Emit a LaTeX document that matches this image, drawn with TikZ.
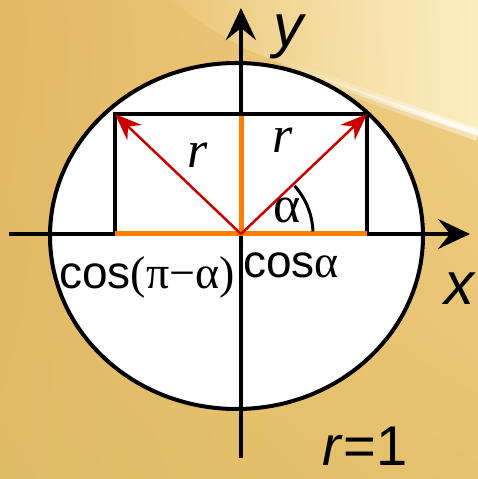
\documentclass[tikz,border=0pt]{standalone}
\usepackage{fontspec}
\setmainfont{Liberation Serif}
\newfontfamily\arialf{Liberation Sans}
\usetikzlibrary{arrows.meta,fadings,shadings}
\definecolor{goldUL}{RGB}{228,184,100}
\definecolor{goldLL}{RGB}{224,187,102}
\definecolor{goldUR}{RGB}{240,208,135}
\definecolor{goldLR}{RGB}{230,194,110}
\definecolor{creamlight}{RGB}{251,238,192}
\definecolor{orangeline}{RGB}{255,128,0}
\definecolor{redarrow}{RGB}{200,0,0}
\tikzfading[name=fadeleft, left color=transparent!100, middle color=transparent!25, right color=transparent!0]
\tikzfading[name=fadestreak, left color=transparent!100, right color=transparent!0]
\tikzset{
  blackline/.style={line width=4pt, black},
  axisline/.style={line width=4pt, black, -{Stealth[length=32pt,width=30pt,inset=12pt]}},
  orangeseg/.style={line width=5pt, orangeline},
  radius arrow/.style={line width=2.5pt, redarrow, -{Stealth[length=27pt,width=21pt,inset=9pt]}},
  sanslabel/.style={inner sep=0pt, anchor=base, font=\arialf\fontsize{46}{50}\selectfont},
  axislabel/.style={inner sep=0pt, anchor=base, font=\arialf\itshape\fontsize{60}{66}\selectfont},
  serifletter/.style={inner sep=0pt, anchor=base, font=\rmfamily\itshape\fontsize{52}{56}\selectfont}
}
\begin{document}
\begin{tikzpicture}[x=1pt,y=1pt]
\useasboundingbox (0,0) rectangle (478,479);
% background
\shade[upper left=goldUL, lower left=goldLL, upper right=goldUR, lower right=goldLR] (0,0) rectangle (478,479);
\begin{scope}
\clip (0,0) rectangle (478,479);
\fill[creamlight, path fading=fadeleft] (140,479) -- (478,479) -- (478,344) .. controls (410,368) and (320,400) .. (255,426) .. controls (215,445) and (190,465) .. (170,479) -- cycle;
\draw[white, line width=12pt, opacity=0.5, path fading=fadestreak] (280,416) .. controls (330,396) and (410,368) .. (478,344);
\draw[white, line width=5pt, opacity=0.9, path fading=fadestreak] (290,412) .. controls (335,394) and (410,368) .. (478,346);
\end{scope}
% coordinates
\coordinate (O) at (241,245);
\coordinate (A) at (115,365);
\coordinate (B) at (367,365);
\coordinate (Afoot) at (115,245);
\coordinate (Bfoot) at (367,245);
\coordinate (Ytop) at (241,365);
\coordinate (xstart) at (9,245);
\coordinate (xend) at (470,245);
\coordinate (ystart) at (241,21);
\coordinate (yend) at (241,471);
% circle
\draw[blackline, fill=white] (236.5,243) ellipse [x radius=186.5, y radius=173];
% axes
\draw[axisline] (xstart) -- (xend);
\draw[axisline] (ystart) -- (yend);
% rectangle
\draw[blackline] (Afoot) -- (A) -- (B) -- (Bfoot);
% orange segments
\draw[orangeseg] (Afoot) -- (Bfoot);
\draw[orangeseg] ([yshift=-2pt]Ytop) -- (O);
% red radius arrows
\draw[radius arrow] (O) -- (A);
\draw[radius arrow] (O) -- (B);
% angle arc
\draw[line width=3pt, black] ([shift={(2:72)}]O) arc[start angle=2, end angle=42, radius=72];
% labels
\node[serifletter] (rleft) at (198,311) {r};
\node[serifletter] (rright) at (283,326) {r};
\node[serifletter, font=\rmfamily\fontsize{52}{56}\selectfont] (alpha) at (287,256) {α};
\node[sanslabel] (cosleft) at (147,190) {cos{\rmfamily(π−α)}};
\node[sanslabel] (cosright) at (291,201) {cos{\rmfamily α}};
\node[axislabel] (xlabel) at (459,174) {x};
\node[axislabel] (ylabel) at (288,432) {y};
\node[inner sep=0pt, anchor=base, font=\arialf\fontsize{56}{60}\selectfont] (rone) at (365,13) {\textit{r}=1};
\end{tikzpicture}
\end{document}
